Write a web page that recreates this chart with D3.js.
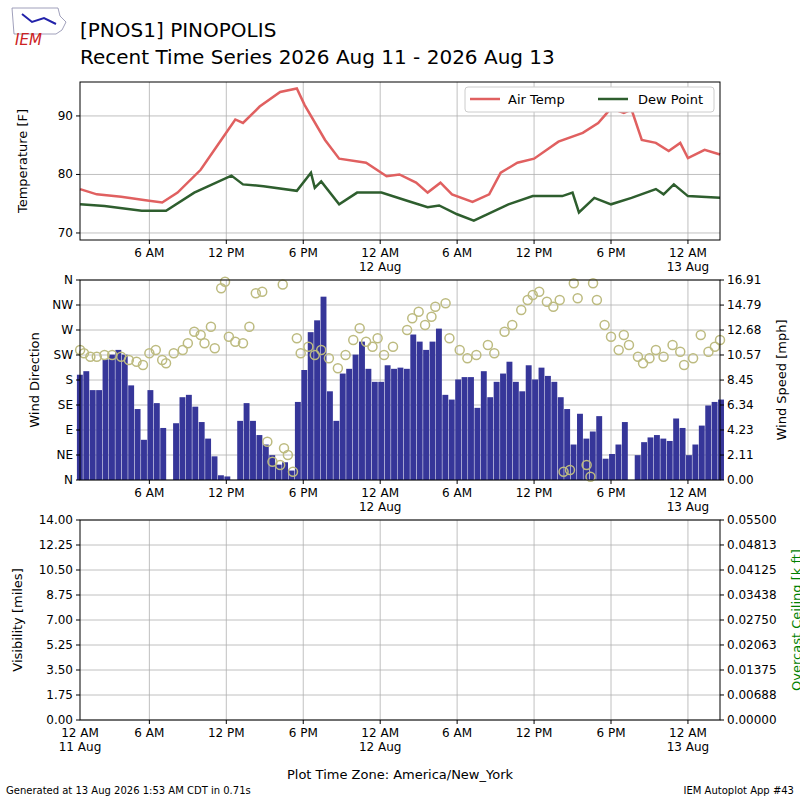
<!DOCTYPE html>
<html><head><meta charset="utf-8">
<script src="https://cdn.jsdelivr.net/npm/d3@7"></script>
<style>body{margin:0;background:#fff}text{font-family:"DejaVu Sans",sans-serif}</style>
</head><body><div id="chart"></div>
<script>
// hours since 12 AM 11 Aug (America/New_York)
var tempHours = [0.6,1.9,3.8,5.7,7,8.2,10,11.6,12.7,13.3,14.6,16.2,17.5,18.1,19.7,20.8,22.9,24.5,25.5,26.8,27.7,28.7,29.6,31.2,32.5,33.4,34.7,36,37.9,39.8,41,42,43,43.6,44.4,45.5,46.5,47.4,48,49.3,50.5];
var airTemp = [77.5,76.6,76.2,75.6,75.2,76.9,80.8,85.9,89.4,88.8,91.6,94.1,94.7,91.9,85.9,82.7,82,79.7,80,78.6,76.9,78.6,76.6,75.3,76.6,80.3,82,82.7,85.6,87.1,88.8,91.3,90.5,91.1,85.9,85.4,84,85.4,82.8,84.2,83.4];
var dewHours = [0.6,2.5,5.4,7.3,9.5,12.4,13.3,14.9,17.5,18.6,18.9,19.4,20.8,22.2,24.1,26.1,27.7,28.6,30.0,31.3,34.0,35.9,38.2,39,39.5,40.7,42,43.6,45.5,46.1,46.9,48,50.5];
var dewPoint = [74.9,74.6,73.8,73.8,76.9,79.8,78.3,78,77.2,80.3,77.7,78.8,74.9,76.9,76.9,75.5,74.4,74.7,73.2,72.1,74.9,76.3,76.3,76.9,73.5,76,74.9,76,77.5,76.6,78.3,76.3,76];

var windStart = 0.6, windStep = 0.5;
var windSpeed = [8.9,9.2,7.6,7.6,10.2,10.6,11,10.6,8,6,3.4,7.6,6.5,4.4,0,4.8,7,7.2,6.2,4.9,3.5,2,0.4,0.3,0,5,6.5,5,3.8,3,2.1,1.3,1.5,0.8,6.6,9.3,12.5,13.5,15.5,7.5,5,9,9.4,10.6,11.7,9.4,8.3,8.3,9.7,9.4,9.5,9.4,12.3,11.7,11,11.7,12.8,7.2,6.8,8.5,8.7,8.7,6.1,9.2,7,8.3,9,10,8.3,7.5,9.7,8.5,9.5,8.8,8.3,7,6,3,5.6,3.5,4.1,5.4,1.8,2.2,3,4.9,0,2.1,3.2,3.6,3.8,3.5,3.3,5.2,4.4,2.1,3,4.6,6.3,6.6,6.8];
var dirHours = [0.6,0.9,1.4,1.9,2.5,3.1,3.8,4.4,5,5.5,6,6.5,7,7.3,7.9,8.6,9,9.5,10,10.3,10.8,11.1,11.6,11.9,12.2,12.7,13.3,13.8,14.3,14.8,15.2,15.6,16.2,16.5,16.8,17.2,16.4,17.5,17.8,18.4,18.9,19.4,20,20.7,21.3,21.9,22.4,22.9,23.4,23.8,24.3,25,26.1,26.5,27,27.5,28,28.3,29.1,29.4,30.2,30.8,31.5,32.4,32.9,33.7,34.3,35,35.5,35.9,36.4,37,37.5,38,38.3,38.8,39.1,39.4,40.1,40.4,40.6,40.9,41.5,42,42.6,43,43.4,44.1,44.5,45,45.5,46.1,46.8,47.4,47.7,48.4,49,49.6,50.1,50.5];
var windDir = [234,228,222,222,225,225,222,216,213,207,228,234,216,210,228,234,246,267,261,246,276,237,345,357,258,249,246,276,336,339,69,33,27,57,45,15,352,255,228,240,225,234,219,201,225,252,273,249,240,255,225,240,270,291,303,279,294,312,318,255,234,219,225,243,228,267,279,306,324,333,339,321,312,324,15,18,354,327,27,6,354,324,279,258,234,261,243,222,210,219,234,222,243,231,207,219,261,231,240,252];

var dirTicks = [0,45,90,135,180,225,270,315,360];
var dirLabels = ["N","NE","E","SE","S","SW","W","NW","N"];
var speedTicks = [0,2.11,4.23,6.34,8.45,10.57,12.68,14.79,16.91];
var visTicks = [0,1.75,3.5,5.25,7,8.75,10.5,12.25,14];
var ceilTicks = [0,0.00688,0.01375,0.02063,0.0275,0.03438,0.04125,0.04813,0.055];
var timeTicks = [6,12,18,24,30,36,42,48];

var W = 800, H = 800, L = 80, R = 720;
var svg = d3.select("#chart").append("svg").attr("width", W).attr("height", H);

var x = d3.scaleLinear().domain([0.59, 50.5]).range([L, R]);

function tickLab(h) {
  var hh = h % 24;
  return hh == 0 ? "12 AM" : hh == 6 ? "6 AM" : hh == 12 ? "12 PM" : "6 PM";
}
function dateLab(h) { return h % 24 == 0 ? (h / 24 + 11 + " Aug") : ""; }

function xAxis(g, ticks, y0, y1) {
  ticks.forEach(function(h) {
    var px = x(h);
    g.append("line").attr("x1", px).attr("x2", px).attr("y1", y0).attr("y2", y1).attr("stroke", "#b0b0b0").attr("stroke-width", 0.8);
    g.append("line").attr("x1", px).attr("x2", px).attr("y1", y1).attr("y2", y1 + 4).attr("stroke", "#000");
    g.append("text").attr("x", px).attr("y", y1 + 17).attr("text-anchor", "middle").attr("font-size", 12).text(tickLab(h));
    g.append("text").attr("x", px).attr("y", y1 + 31).attr("text-anchor", "middle").attr("font-size", 12).text(dateLab(h));
  });
}
function yGrid(g, sc, ticks) {
  ticks.forEach(function(v) {
    g.append("line").attr("x1", L).attr("x2", R).attr("y1", sc(v)).attr("y2", sc(v)).attr("stroke", "#b0b0b0").attr("stroke-width", 0.8);
  });
}
function frame(y0, y1) {
  svg.append("rect").attr("x", L).attr("y", y0).attr("width", R - L).attr("height", y1 - y0).attr("fill", "none").attr("stroke", "#000");
}
function vlabel(txt, px, py, col) {
  svg.append("text").attr("transform", "translate(" + px + "," + py + ") rotate(-90)").attr("text-anchor", "middle").attr("font-size", 13).attr("fill", col || "#000").text(txt);
}

// title
svg.append("text").attr("x", 80).attr("y", 37).attr("font-size", 20).text("[PNOS1] PINOPOLIS");
svg.append("text").attr("x", 80).attr("y", 64).attr("font-size", 20).text("Recent Time Series 2026 Aug 11 - 2026 Aug 13");
svg.append("path").attr("d", "M12,8 L58,8 L60,16 L66,22 L62,30 L56,34 L14,34 Z").attr("fill", "#fff").attr("stroke", "#8888aa").attr("stroke-width", 0.8);
svg.append("path").attr("d", "M22,14 L32,22 L44,18 L56,24").attr("fill", "none").attr("stroke", "#2222aa").attr("stroke-width", 2);
svg.append("text").attr("x", 15).attr("y", 45).attr("font-size", 15).attr("font-style", "italic").attr("fill", "#cc2222").attr("font-family", "Liberation Serif").text("IEM");

// panel 1: temperatures
var y1 = d3.scaleLinear().domain([68.8, 95.8]).range([240, 82]);
var g1 = svg.append("g");
yGrid(g1, y1, [70, 80, 90]);
xAxis(g1, timeTicks, 82, 240);
[70, 80, 90].forEach(function(v) {
  g1.append("line").attr("x1", L - 4).attr("x2", L).attr("y1", y1(v)).attr("y2", y1(v)).attr("stroke", "#000");
  g1.append("text").attr("x", L - 7).attr("y", y1(v) + 4).attr("text-anchor", "end").attr("font-size", 12).text(v);
});
var line1 = d3.line().x(function(d) { return x(d[0]); }).y(function(d) { return y1(d[1]); });
g1.append("path").attr("d", line1(d3.zip(tempHours, airTemp))).attr("fill", "none").attr("stroke", "#e06060").attr("stroke-width", 2.5);
g1.append("path").attr("d", line1(d3.zip(dewHours, dewPoint))).attr("fill", "none").attr("stroke", "#2e5e2e").attr("stroke-width", 2.5);
frame(82, 240);
vlabel("Temperature [F]", 27, 161);
var lg = svg.append("g");
lg.append("rect").attr("x", 465).attr("y", 87).attr("width", 249).attr("height", 25).attr("rx", 3).attr("fill", "#fff").attr("stroke", "#ccc");
lg.append("line").attr("x1", 470).attr("x2", 500).attr("y1", 99).attr("y2", 99).attr("stroke", "#e06060").attr("stroke-width", 2.5);
lg.append("text").attr("x", 508).attr("y", 104).attr("font-size", 13).text("Air Temp");
lg.append("line").attr("x1", 598).attr("x2", 628).attr("y1", 99).attr("y2", 99).attr("stroke", "#2e5e2e").attr("stroke-width", 2.5);
lg.append("text").attr("x", 638).attr("y", 104).attr("font-size", 13).text("Dew Point");

// panel 2: wind
var yd = d3.scaleLinear().domain([0, 360]).range([480, 280]);
var ys = d3.scaleLinear().domain([0, 16.91]).range([480, 280]);
var g2 = svg.append("g");
yGrid(g2, yd, dirTicks);
xAxis(g2, timeTicks, 280, 480);
var bw = x(windStep) - x(0);
g2.selectAll("rect.bar").data(windSpeed).enter().append("rect")
  .attr("x", function(d, i) { return x(windStart + i * windStep) - bw / 2; })
  .attr("width", bw * 0.92)
  .attr("y", function(d) { return ys(d); })
  .attr("height", function(d) { return 480 - ys(d); })
  .attr("fill", "#363699");
g2.selectAll("circle").data(d3.zip(dirHours, windDir)).enter().append("circle")
  .attr("cx", function(d) { return x(d[0]); }).attr("cy", function(d) { return yd(d[1]); })
  .attr("r", 4.5).attr("fill", "none").attr("stroke", "#bdbb80").attr("stroke-width", 1.5);
dirTicks.forEach(function(v, i) {
  g2.append("line").attr("x1", L - 4).attr("x2", L).attr("y1", yd(v)).attr("y2", yd(v)).attr("stroke", "#000");
  g2.append("text").attr("x", L - 7).attr("y", yd(v) + 4).attr("text-anchor", "end").attr("font-size", 12).text(dirLabels[i]);
});
speedTicks.forEach(function(v) {
  g2.append("line").attr("x1", R).attr("x2", R + 4).attr("y1", ys(v)).attr("y2", ys(v)).attr("stroke", "#000");
  g2.append("text").attr("x", R + 7).attr("y", ys(v) + 4).attr("font-size", 12).text(v.toFixed(2));
});
frame(280, 480);
vlabel("Wind Direction", 39, 380);
vlabel("Wind Speed [mph]", 786, 380);

// panel 3: visibility (no data)
var yv = d3.scaleLinear().domain([0, 14]).range([720, 520]);
var yc = d3.scaleLinear().domain([0, 0.055]).range([720, 520]);
var g3 = svg.append("g");
yGrid(g3, yv, visTicks);
xAxis(g3, timeTicks, 520, 720);
g3.append("text").attr("x", L).attr("y", 737).attr("text-anchor", "middle").attr("font-size", 12).text("12 AM");
g3.append("text").attr("x", L).attr("y", 751).attr("text-anchor", "middle").attr("font-size", 12).text("11 Aug");
visTicks.forEach(function(v) {
  g3.append("line").attr("x1", L - 4).attr("x2", L).attr("y1", yv(v)).attr("y2", yv(v)).attr("stroke", "#000");
  g3.append("text").attr("x", L - 7).attr("y", yv(v) + 4).attr("text-anchor", "end").attr("font-size", 12).text(v.toFixed(2));
});
ceilTicks.forEach(function(v) {
  g3.append("line").attr("x1", R).attr("x2", R + 4).attr("y1", yc(v)).attr("y2", yc(v)).attr("stroke", "#000");
  g3.append("text").attr("x", R + 7).attr("y", yc(v) + 4).attr("font-size", 12).text(v.toFixed(5));
});
frame(520, 720);
vlabel("Visibility [miles]", 22, 620);
vlabel("Overcast Ceiling [k ft]", 801, 620, "green");

svg.append("text").attr("x", 400).attr("y", 779).attr("text-anchor", "middle").attr("font-size", 13).text("Plot Time Zone: America/New_York");
svg.append("text").attr("x", 6).attr("y", 794).attr("font-size", 10).text("Generated at 13 Aug 2026 1:53 AM CDT in 0.71s");
svg.append("text").attr("x", 794).attr("y", 794).attr("text-anchor", "end").attr("font-size", 10).text("IEM Autoplot App #43");
</script></body></html>
